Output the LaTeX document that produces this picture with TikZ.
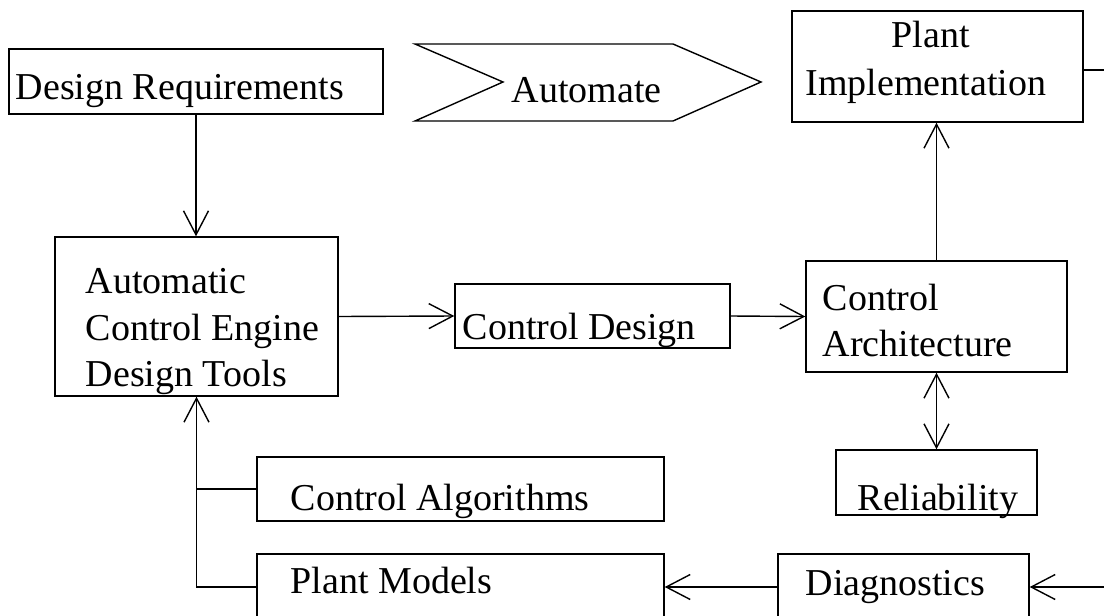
\documentclass[tikz,border=0pt]{standalone}
\usepackage{fontspec}
\setmainfont{Liberation Serif}
\usetikzlibrary{arrows.meta}

\begin{document}
\begin{tikzpicture}[x=0.5pt, y=-0.5pt, line width=0.7pt,
	block/.style={draw,rectangle,inner sep=0pt},
	lbl/.style={anchor=base west,inner sep=0pt,font=\fontsize{19}{23}\selectfont},
	arr/.style={-{Straight Barb[length=12pt,width=12.5pt]}}]
	
	\useasboundingbox (0,0) rectangle (1104,616);
	\clip (0,0) rectangle (1104,616);
	
	% boxes
	\node[block,minimum width=187pt,minimum height=32.5pt] (dreq) at (196,81.5) {};
	\node[block,minimum width=145.5pt,minimum height=55.5pt] (plant) at (937.5,66.5) {};
	\node[block,minimum width=141.5pt,minimum height=79.5pt] (engine) at (196.5,316.5) {};
	\node[block,minimum width=137.5pt,minimum height=32pt] (cdesign) at (592.5,316) {};
	\node[block,minimum width=130.5pt,minimum height=55.5pt] (carch) at (936.5,316.5) {};
	\node[block,minimum width=100.5pt,minimum height=32.5pt] (rel) at (936.5,482.5) {};
	\node[block,minimum width=203.5pt,minimum height=32pt] (calg) at (460.5,489) {};
	\node[block,minimum width=203.5pt,minimum height=33pt] (pmod) at (460.5,587) {};
	\node[block,minimum width=125.5pt,minimum height=33pt] (diag) at (903.5,587) {};
	\draw (415,44) -- (673,44) -- (761,82) -- (673,121) -- (415,121) -- (503,82) -- cycle;
	
	% texts
	\node[lbl] (t1) at (15,99) {Design Requirements};
	\node[lbl] (t2) at (511,102) {Automate};
	\node[lbl] (t3) at (891,47) {Plant};
	\node[lbl] (t4) at (805,95) {Implementation};
	\node[lbl] (t5) at (85,293) {Automatic};
	\node[lbl] (t6) at (85,340) {Control Engine};
	\node[lbl] (t7) at (85,386) {Design Tools};
	\node[lbl] (t8) at (462,339) {Control Design};
	\node[lbl] (t9) at (822,310) {Control};
	\node[lbl] (t10) at (822,356) {Architecture};
	\node[lbl] (t11) at (857,510) {Reliability};
	\node[lbl] (t12) at (290,510) {Control Algorithms};
	\node[lbl] (t13) at (290,593) {Plant Models};
	\node[lbl] (t14) at (805,595) {Diagnostics};
	
	\coordinate (out) at (1104,70);
	\coordinate (in) at (1104,587);
	
	% connectors
	\draw[arr] (dreq.south) -- (dreq.south |- engine.north);
	\draw[arr] (engine.east) -- (cdesign.west);
	\draw[arr] (cdesign.east) -- (carch.west);
	\draw[arr] (carch.north) -- (carch.north |- plant.south);
	\draw[{Straight Barb[length=12pt,width=12.5pt]}-{Straight Barb[length=12pt,width=12.5pt]}] (carch.south) -- (rel.north);
	\draw (out -| plant.east) -- (out);
	\draw[arr] (in) -- (diag.east);
	\draw[arr] (diag.west) -- (pmod.east);
	\draw[arr] (pmod.west) -| (engine.south);
	\draw (calg.west) -- (calg.west -| engine.south);
\end{tikzpicture}
\end{document}
